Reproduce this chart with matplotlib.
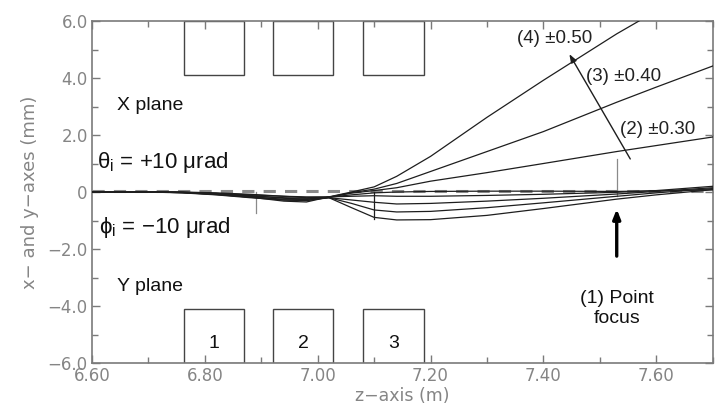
import matplotlib
matplotlib.use("Agg")
import matplotlib.pyplot as plt
import matplotlib.ticker as mticker
from matplotlib.patches import Rectangle

# ── Trajectory data (z in m, offsets in mm) ────────────────────────────────────
z = [6.60, 6.70, 6.76, 6.82, 6.88, 6.94, 6.98, 7.02, 7.06, 7.10,
     7.14, 7.20, 7.30, 7.40, 7.53, 7.60, 7.70]

# x plane, theta_i = +10 urad
x_focus = [0, 0, 0, -0.03, -0.08, -0.15, -0.20, -0.18, -0.10, -0.03,
           0.00, 0.02, 0.03, 0.03, 0.02, 0.04, 0.08]
x_030 = [0, 0, -0.01, -0.05, -0.12, -0.22, -0.25, -0.18, -0.04, 0.05,
         0.15, 0.38, 0.68, 1.00, 1.42, 1.63, 1.93]
x_040 = [0, 0, -0.01, -0.06, -0.15, -0.28, -0.30, -0.18, -0.02, 0.10,
         0.30, 0.72, 1.42, 2.12, 3.15, 3.68, 4.42]
x_050 = [0, 0, -0.02, -0.08, -0.18, -0.32, -0.35, -0.17, 0.00, 0.18,
         0.55, 1.25, 2.62, 3.92, 5.55, 6.35, 7.55]

# y plane, phi_i = -10 urad
y_a = [0, 0, -0.01, -0.05, -0.10, -0.15, -0.17, -0.17, -0.15, -0.13,
       -0.15, -0.15, -0.12, -0.08, -0.01, 0.05, 0.20]
y_b = [0, 0, -0.02, -0.07, -0.14, -0.20, -0.22, -0.20, -0.28, -0.36,
       -0.42, -0.40, -0.32, -0.22, -0.07, 0.02, 0.15]
y_c = [0, 0, -0.02, -0.09, -0.18, -0.25, -0.26, -0.20, -0.40, -0.63,
       -0.70, -0.68, -0.55, -0.38, -0.15, -0.03, 0.12]
y_d = [0, 0, -0.03, -0.10, -0.20, -0.28, -0.30, -0.20, -0.55, -0.89,
       -0.98, -0.97, -0.82, -0.58, -0.25, -0.10, 0.08]

# quadrupole extents along z and their labels
quad_z0 = [6.763, 6.920, 7.081]
quad_z1 = [6.869, 7.028, 7.189]
quad_names = ["1", "2", "3"]

x_ticks = [6.60, 6.80, 7.00, 7.20, 7.40, 7.60]
y_ticks = [-6, -4, -2, 0, 2, 4, 6]

# ── Figure ─────────────────────────────────────────────────────────────────────
plt.rcParams["font.family"] = ["Liberation Sans", "DejaVu Sans"]
plt.rcParams["mathtext.default"] = "regular"

AXIS_GRAY = "#7a7a7a"
LINE = "#1e1e1e"
MINUS = "\u2212"

fig = plt.figure(figsize=(7.15, 4.05), dpi=100)
ax = fig.add_axes([0.1287, 0.1037, 0.868, 0.8444])
ax.set_xlim(6.60, 7.70)
ax.set_ylim(-6.0, 6.0)

# magnets, top (x plane) and bottom (y plane)
for z0, z1, name in zip(quad_z0, quad_z1, quad_names):
    for y0 in (4.1, -6.0):
        ax.add_patch(Rectangle((z0, y0), z1 - z0, 1.9, fill=False,
                               edgecolor="#444444", linewidth=1.0, zorder=1))
    ax.text((z0 + z1) / 2, -5.3, name, ha="center", va="center",
            fontsize=14, color="#111111")

# reference axis
ax.plot([6.60, 7.70], [0.04, 0.04], color="#8a8a8a", linewidth=2.2,
        dashes=(4, 3), zorder=2)

for ys in (x_focus, x_030, x_040, x_050, y_a, y_b, y_c, y_d):
    ax.plot(z, ys, color=LINE, linewidth=0.9, zorder=3)

# position markers
ax.plot([6.89, 6.89], [0.0, -0.75], color="#8a8a8a", linewidth=0.9)
ax.plot([7.10, 7.10], [0.0, -0.93], color=LINE, linewidth=0.9)
ax.plot([7.53, 7.53], [1.16, -0.15], color="#8a8a8a", linewidth=0.9)

# annotations
ax.annotate("", xy=(7.53, -0.6), xytext=(7.53, -2.25),
            arrowprops=dict(arrowstyle="-|>,head_length=0.55,head_width=0.22",
                            color="black", linewidth=2.4,
                            shrinkA=0, shrinkB=0))
ax.annotate("", xy=(7.446, 4.84), xytext=(7.554, 1.16),
            arrowprops=dict(arrowstyle="-|>,head_length=0.5,head_width=0.18",
                            color=LINE, linewidth=1.0,
                            shrinkA=0, shrinkB=0))

ax.text(7.354, 5.40, "(4) \u00b10.50", fontsize=13.5, va="center", color="#222222")
ax.text(7.476, 4.04, "(3) \u00b10.40", fontsize=13.5, va="center", color="#222222")
ax.text(7.535, 2.21, "(2) \u00b10.30", fontsize=13.5, va="center", color="#222222")
ax.text(7.53, -4.1, "(1) Point\nfocus", fontsize=14, ha="center", va="center",
        color="#111111", linespacing=1.25)

ax.text(6.644, 3.02, "X plane", fontsize=14, va="center", color="#111111")
ax.text(6.644, -3.33, "Y plane", fontsize=14, va="center", color="#111111")
ax.text(6.609, 1.02, r"$\theta_i$ = +10 $\mu$rad", fontsize=16, va="center",
        color="#111111")
ax.text(6.612, -1.26, r"$\phi_i$ = " + MINUS + r"10 $\mu$rad",
        fontsize=16, va="center", color="#111111")

# ── Axes styling ───────────────────────────────────────────────────────────────
ax.set_xticks(x_ticks)
ax.set_yticks(y_ticks)
ax.xaxis.set_minor_locator(mticker.MultipleLocator(0.1))
ax.yaxis.set_minor_locator(mticker.MultipleLocator(1.0))
ax.xaxis.set_major_formatter(mticker.FuncFormatter(lambda v, _: f"{v:.2f}"))
ax.yaxis.set_major_formatter(mticker.FuncFormatter(
    lambda v, _: "0" if abs(v) < 1e-9 else f"{v:.1f}".replace("-", MINUS)))

ax.tick_params(which="both", direction="in", top=True, right=True,
               color=AXIS_GRAY, labelcolor="#858585", labelsize=12,
               labelfontfamily="DejaVu Sans")
ax.tick_params(which="major", length=6, width=1.0, pad=3)
ax.tick_params(which="minor", length=4, width=1.0)
for sp in ax.spines.values():
    sp.set_color(AXIS_GRAY)
    sp.set_linewidth(1.2)

ax.set_xlabel("z" + MINUS + "axis (m)", fontsize=12.5, color="#858585",
              family="DejaVu Sans", labelpad=1)
ax.set_ylabel("x" + MINUS + " and y" + MINUS + "axes (mm)", fontsize=13,
              color="#858585", family="DejaVu Sans", labelpad=6)

fig.savefig("out.png", dpi=100)
